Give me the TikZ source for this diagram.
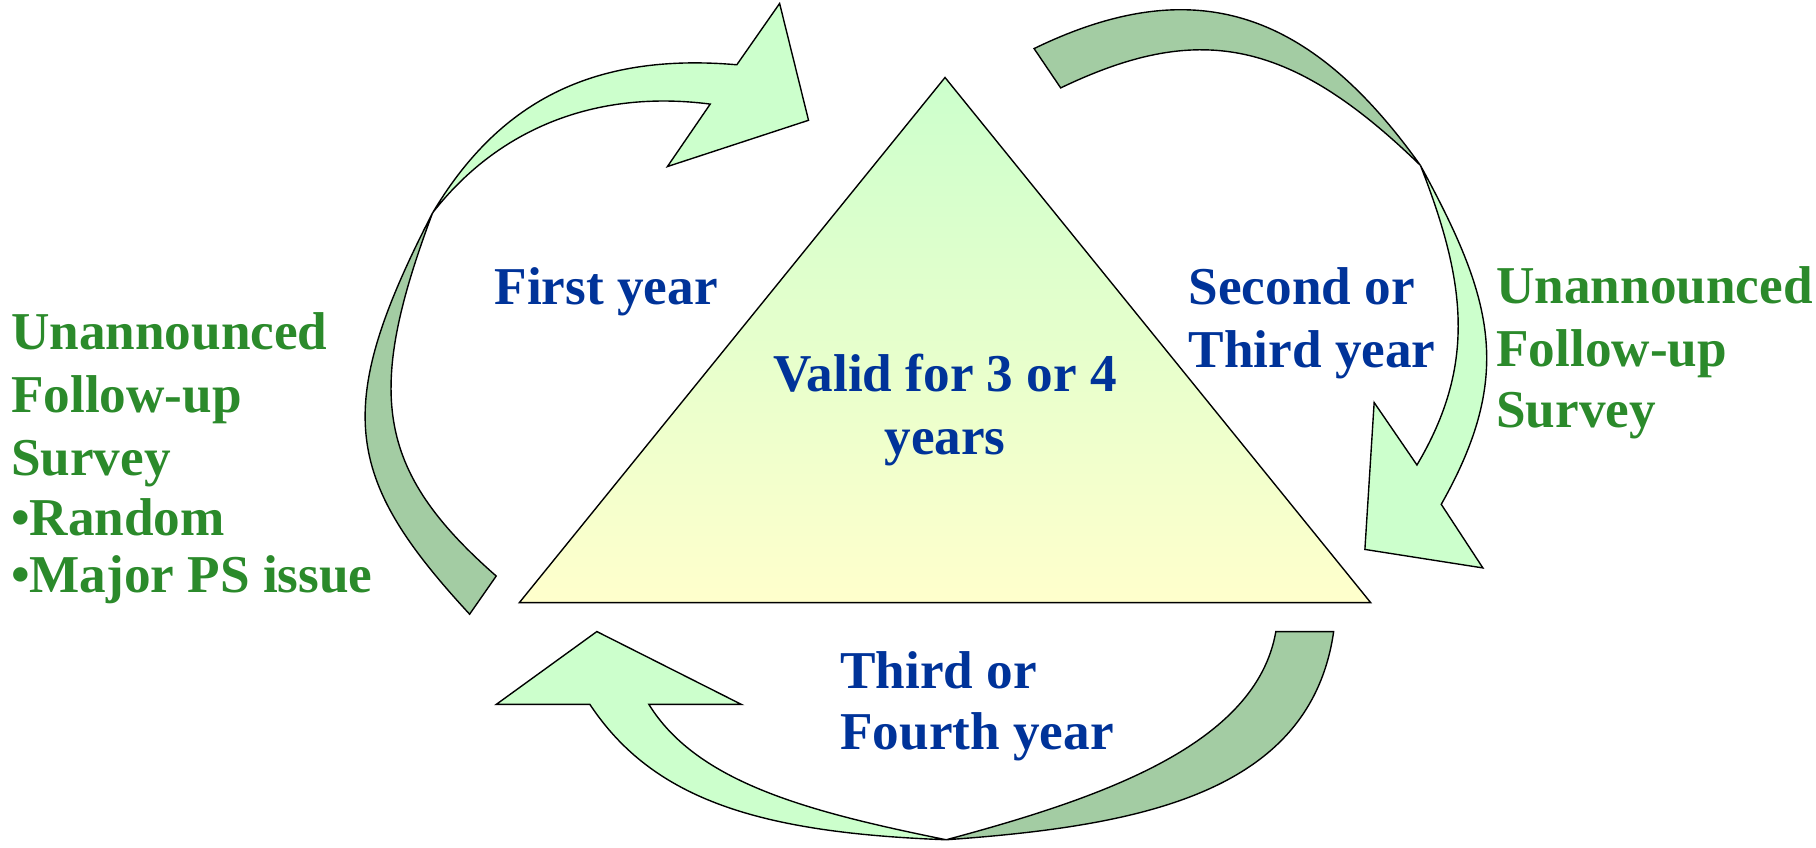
\documentclass[tikz,border=0pt]{standalone}
\usepackage{fontspec}
\setmainfont{Liberation Serif}
\definecolor{litegreen}{HTML}{CCFFCC}
\definecolor{darkgreen}{HTML}{A3CCA3}
\definecolor{paleyellow}{HTML}{FFFFCC}
\definecolor{yearblue}{HTML}{003399}
\definecolor{surveygreen}{HTML}{2B8A2B}
\begin{document}
\begin{tikzpicture}[x=1pt,y=-1pt,
	line width=1.2pt,
	front/.style={fill=litegreen, draw=black},
	back/.style={fill=darkgreen, draw=black},
	yeartext/.style={text=yearblue, font=\bfseries\fontsize{46}{54.5}\selectfont, inner sep=0pt},
	surveytext/.style={text=surveygreen, font=\bfseries\fontsize{46}{54.5}\selectfont, inner sep=0pt, align=left}]
	\useasboundingbox (0,0) rectangle (1570,732.3);
	
	%triangle
	\path[draw=black, top color=litegreen, bottom color=paleyellow] (817,67) -- (1185,521) -- (449,521) -- cycle;
	
	%first year arrow
	\path[back] (374,184) .. controls (287,353) and (297,413) .. (406,531) -- (429,498)
		.. controls (324,406) and (316,339) .. (374,184) -- cycle;
	\path[front] (374,184) .. controls (430,90) and (510,45) .. (637,56)
		-- (674,3) -- (699,104) -- (577,144) -- (614,90)
		.. controls (514,77) and (430,112) .. (374,184) -- cycle;
	
	%second year arrow
	\path[back] (894,42) .. controls (1034,-26) and (1133,10) .. (1228,143)
		.. controls (1113,31) and (1034,20) .. (917,76) -- cycle;
	\path[front] (1228,143) .. controls (1290,257) and (1310,323) .. (1246,436)
		-- (1282,491) -- (1180,475) -- (1188,348) -- (1225,402)
		.. controls (1276,316) and (1268,245) .. (1228,143) -- cycle;
	
	%third year arrow
	\path[back] (818,726) .. controls (988,714) and (1133,685) .. (1153,546) -- (1103,546)
		.. controls (1086,644) and (952,690) .. (818,726) -- cycle;
	\path[front] (510,609) .. controls (565,692) and (658,720) .. (818,726)
		.. controls (700,702) and (603,677) .. (561,609)
		-- (641,609) -- (516,546) -- (429,609) -- cycle;
	
	%labels
	\node[yeartext, anchor=base] (valid) at (817,393) [align=center] {Valid for 3 or 4\\years};
	\node[yeartext, anchor=base west] (first) at (427,263) {First year};
	\node[yeartext, anchor=base west] (second) at (1027,318) [align=left] {Second or\\Third year};
	\node[yeartext, anchor=base west] (third) at (726,648) [align=left] {Third or\\[-1.5pt]Fourth year};
	\node[surveytext, anchor=base west] (leftsurvey) at (9,512) {Unannounced\\Follow-up\\Survey\\[-2.5pt]•Random\\[-5.5pt]•Major PS issue};
	\node[surveytext, anchor=base west] (rightsurvey) at (1293,370) {Unannounced\\Follow-up\\[-1pt]Survey};
\end{tikzpicture}
\end{document}
